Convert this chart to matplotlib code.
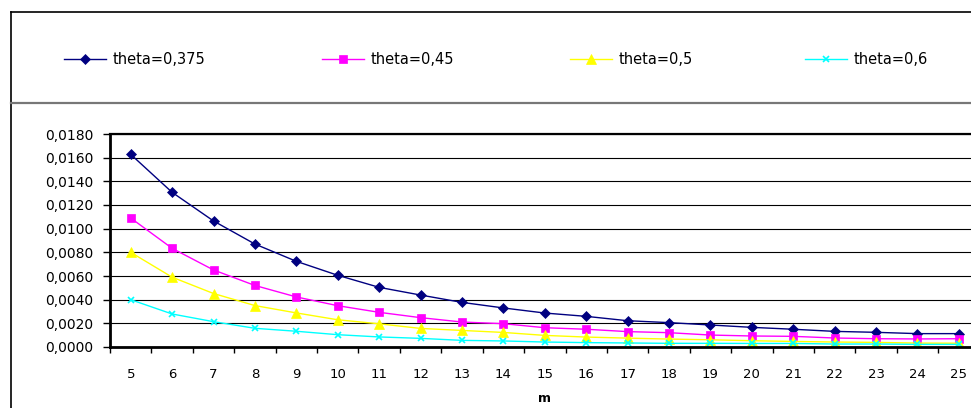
import matplotlib
matplotlib.use("Agg")
import matplotlib.pyplot as plt
from matplotlib.lines import Line2D
from matplotlib.ticker import FixedLocator, FuncFormatter

plt.rcParams['font.family'] = ['DejaVu Sans']

m = list(range(5, 26))
theta_0375 = [0.01628, 0.01307, 0.01065, 0.00870, 0.00724, 0.00606, 0.00504, 0.00439,
              0.00377, 0.00330, 0.00287, 0.00259, 0.00222, 0.00206, 0.00186, 0.00166,
              0.00150, 0.00132, 0.00124, 0.00113, 0.00113]
theta_045 = [0.01090, 0.00834, 0.00651, 0.00520, 0.00423, 0.00349, 0.00293, 0.00248,
             0.00211, 0.00197, 0.00163, 0.00150, 0.00130, 0.00121, 0.00101, 0.00093,
             0.00090, 0.00076, 0.00070, 0.00068, 0.00070]
theta_05 = [0.00800, 0.00590, 0.00452, 0.00350, 0.00288, 0.00230, 0.00196, 0.00157,
            0.00140, 0.00123, 0.00098, 0.00084, 0.00075, 0.00067, 0.00061, 0.00053,
            0.00047, 0.00042, 0.00039, 0.00033, 0.00032]
theta_06 = [0.00400, 0.00279, 0.00214, 0.00158, 0.00133, 0.00104, 0.00085, 0.00073,
            0.00056, 0.00051, 0.00042, 0.00037, 0.00034, 0.00031, 0.00031, 0.00030,
            0.00030, 0.00025, 0.00025, 0.00022, 0.00022]

series = [
    ("theta=0,375", theta_0375, "#000080", "D", 5.0),
    ("theta=0,45", theta_045, "#FF00FF", "s", 6.0),
    ("theta=0,5", theta_05, "#FFFF00", "^", 7.0),
    ("theta=0,6", theta_06, "#00FFFF", "x", 5.0),
]
legend_x = [64, 322, 570, 805]

W, H = 971, 408
fig = plt.figure(figsize=(W / 100, H / 100), dpi=100)

# outer chart frame and legend separator
fig.add_artist(Line2D([11 / W, 11 / W], [0, 1 - 12 / H], color="black", lw=1.2))
fig.add_artist(Line2D([11 / W, 1], [1 - 12 / H, 1 - 12 / H], color="black", lw=1.2))
fig.add_artist(Line2D([11 / W, 1], [1 - 103 / H, 1 - 103 / H], color="#777777", lw=1.6))

ax = fig.add_axes([110 / W, 1 - 347 / H, 869.6 / W, 213 / H])

for label, vals, color, marker, ms in series:
    mew = 1.2 if marker == "x" else 0.5
    ax.plot(m, vals, color=color, lw=1.0, marker=marker, markersize=ms,
            markerfacecolor=color, markeredgecolor=color, markeredgewidth=mew)

ax.set_xlim(4.5, 25.5)
ax.set_ylim(0, 0.018)
ax.set_yticks([i * 0.002 for i in range(10)])
ax.yaxis.set_major_formatter(FuncFormatter(lambda v, p: f"{v:.4f}".replace(".", ",")))
ax.yaxis.grid(True, color="black", lw=0.8)
ax.set_axisbelow(True)

ax.xaxis.set_major_locator(FixedLocator([x - 0.5 for x in range(5, 27)]))
ax.xaxis.set_minor_locator(FixedLocator(m))
ax.xaxis.set_major_formatter(FuncFormatter(lambda v, p: ""))
ax.xaxis.set_minor_formatter(FuncFormatter(lambda v, p: f"{int(round(v))}"))
ax.tick_params(axis="x", which="major", length=4, width=1, direction="out")
ax.tick_params(axis="x", which="minor", length=0, pad=15, labelsize=9.5)
ax.tick_params(axis="y", length=5, width=1, direction="out", labelsize=10, pad=7)

for side in ["left", "bottom"]:
    ax.spines[side].set_linewidth(2)
ax.spines["top"].set_linewidth(1.6)
ax.spines["right"].set_visible(False)

ax.set_xlabel("m", fontsize=9, fontweight="bold", labelpad=8)

# legend row along the top panel
ly = 1 - 59 / H
for (label, vals, color, marker, ms), x0 in zip(series, legend_x):
    mew = 1.2 if marker == "x" else 0.5
    fig.add_artist(Line2D([x0 / W, (x0 + 42) / W], [ly, ly], color=color, lw=1.0))
    fig.add_artist(Line2D([(x0 + 21) / W], [ly], color=color, marker=marker, markersize=ms,
                          markerfacecolor=color, markeredgecolor=color, markeredgewidth=mew,
                          linestyle="none"))
    fig.text((x0 + 49) / W, ly, label, fontsize=10.5, va="center", ha="left")

fig.savefig("out.png", dpi=100)
